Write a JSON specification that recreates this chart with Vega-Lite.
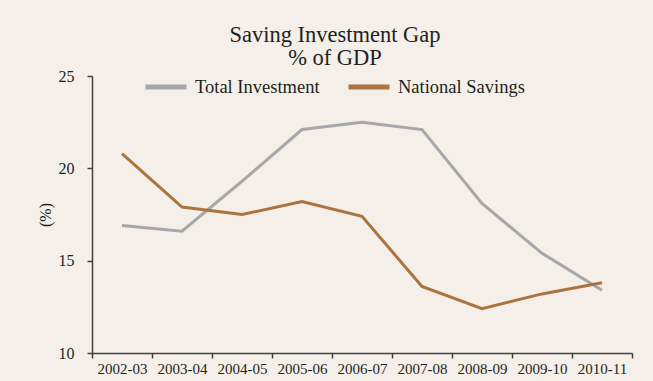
{
  "$schema": "https://vega.github.io/schema/vega-lite/v6.json",
  "width": 540,
  "height": 277,
  "autosize": {"type": "none"},
  "padding": {"left": 92, "top": 76, "right": 21, "bottom": 28},
  "background": "#f4efe8",
  "title": {
    "text": ["Saving Investment Gap", "% of GDP"],
    "font": "Liberation Serif",
    "fontSize": 22.5,
    "fontWeight": "normal",
    "color": "#231f20",
    "lineHeight": 23,
    "anchor": "middle",
    "frame": "group",
    "dx": -27,
    "offset": -5
  },
  "data": {
    "values": [
      {"year": "2002-03", "series": "Total Investment", "value": 16.9},
      {"year": "2003-04", "series": "Total Investment", "value": 16.6},
      {"year": "2004-05", "series": "Total Investment", "value": 19.3},
      {"year": "2005-06", "series": "Total Investment", "value": 22.1},
      {"year": "2006-07", "series": "Total Investment", "value": 22.5},
      {"year": "2007-08", "series": "Total Investment", "value": 22.1},
      {"year": "2008-09", "series": "Total Investment", "value": 18.1},
      {"year": "2009-10", "series": "Total Investment", "value": 15.4},
      {"year": "2010-11", "series": "Total Investment", "value": 13.4},
      {"year": "2002-03", "series": "National Savings", "value": 20.8},
      {"year": "2003-04", "series": "National Savings", "value": 17.9},
      {"year": "2004-05", "series": "National Savings", "value": 17.5},
      {"year": "2005-06", "series": "National Savings", "value": 18.2},
      {"year": "2006-07", "series": "National Savings", "value": 17.4},
      {"year": "2007-08", "series": "National Savings", "value": 13.6},
      {"year": "2008-09", "series": "National Savings", "value": 12.4},
      {"year": "2009-10", "series": "National Savings", "value": 13.2},
      {"year": "2010-11", "series": "National Savings", "value": 13.8}
    ]
  },
  "mark": {"type": "line", "strokeWidth": 3, "strokeJoin": "miter"},
  "encoding": {
    "x": {
      "field": "year",
      "type": "ordinal",
      "sort": null,
      "scale": {"type": "band", "paddingInner": 0, "paddingOuter": 0},
      "axis": {
        "title": null,
        "tickBand": "extent",
        "labelAngle": 0,
        "labelFont": "Liberation Serif",
        "labelFontSize": 15,
        "labelColor": "#231f20",
        "labelPadding": 3,
        "domainColor": "#404040",
        "domainWidth": 1.5,
        "tickColor": "#404040",
        "tickWidth": 1.5,
        "tickSize": 5,
        "grid": false
      }
    },
    "y": {
      "field": "value",
      "type": "quantitative",
      "scale": {"domain": [10, 25], "nice": false, "zero": false},
      "axis": {
        "title": "(%)",
        "titleFont": "Liberation Serif",
        "titleFontSize": 16,
        "titleFontWeight": "normal",
        "titleColor": "#231f20",
        "titlePadding": 5,
        "values": [10, 15, 20, 25],
        "labelFont": "Liberation Serif",
        "labelFontSize": 16,
        "labelColor": "#231f20",
        "labelPadding": 13,
        "domainColor": "#404040",
        "domainWidth": 1.5,
        "tickColor": "#404040",
        "tickWidth": 1.5,
        "tickSize": 5,
        "grid": false
      }
    },
    "color": {
      "field": "series",
      "type": "nominal",
      "sort": ["Total Investment", "National Savings"],
      "scale": {"domain": ["Total Investment", "National Savings"], "range": ["#a5a7aa", "#ab743f"]},
      "legend": {
        "title": null,
        "orient": "none",
        "direction": "horizontal",
        "legendX": 51,
        "legendY": -12,
        "padding": 0,
        "symbolType": "stroke",
        "symbolSize": 1681,
        "symbolStrokeWidth": 5,
        "labelFont": "Liberation Serif",
        "labelFontSize": 18.5,
        "labelColor": "#231f20",
        "labelOffset": 6,
        "columnPadding": 18
      }
    }
  },
  "config": {"view": {"stroke": null}}
}
